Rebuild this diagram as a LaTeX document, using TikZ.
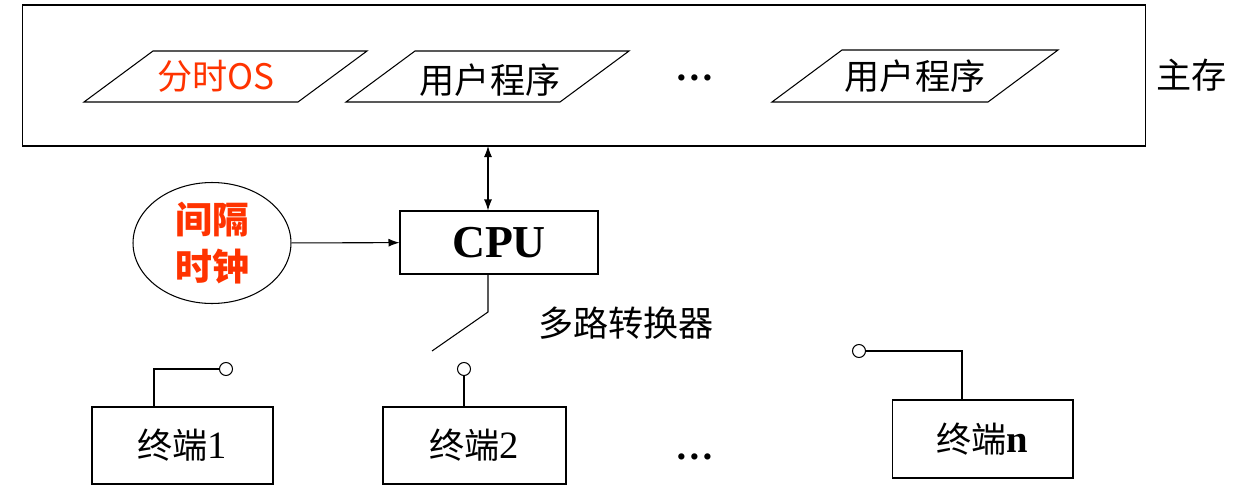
\documentclass[tikz,border=0pt]{standalone}
\usepackage{fontspec}
\setmainfont{Liberation Serif}
\newfontfamily\cjk{Noto Sans CJK SC}
\usetikzlibrary{shapes.geometric, arrows.meta, positioning, calc}
\definecolor{osRed}{RGB}{255,51,0}

\begin{document}
\begin{tikzpicture}[
    x=0.02cm, y=-0.02cm,
    box/.style={rectangle, draw=black, line width=0.6pt, inner sep=0pt},
    cjktext/.style={font=\cjk\fontsize{20}{22}\selectfont, inner sep=0pt},
    port/.style={circle, draw=black, line width=0.6pt, fill=white, minimum size=0.26cm, inner sep=0pt},
    wire/.style={line width=0.6pt},
    arrow/.style={-{Latex[length=2.2mm, width=1.6mm]}, line width=0.6pt}
]
\useasboundingbox (0,0) rectangle (1250,490);

% Main memory
\node[box, minimum width=22.48cm, minimum height=2.82cm] (mem) at (584,75.5) {};
\node[cjktext, right=0.2cm of mem] (memlab) {主存};

% Programs in memory
\node[cjktext, text=osRed] (os) at (216,76) {分时OS};
\node[cjktext] (prog1) at (490,80) {用户程序};
\node[cjktext] (prog2) at (915,76) {用户程序};
\node[font=\fontsize{22}{22}\selectfont\bfseries] (mdots) at (695,78) {\dots};
\draw[wire] (226,77) ++(-142,25) -- ++(214,0) -- ++(69,-51) -- ++(-214,0) -- cycle;
\draw[wire] (488,77) ++(-142,25) -- ++(214,0) -- ++(69,-51) -- ++(-214,0) -- cycle;
\draw[wire] (915,77) ++(-143,25) -- ++(216,0) -- ++(70,-52) -- ++(-216,0) -- cycle;

% CPU and clock
\node[box, minimum width=3.96cm, minimum height=1.26cm, font=\fontsize{26}{28}\selectfont\bfseries] (cpu) at (499,242.5) {CPU};
\node[ellipse, draw=black, line width=0.6pt, minimum width=3.16cm, minimum height=2.42cm, align=center,
      text=osRed, font=\cjk\bfseries\fontsize{21}{27}\selectfont, inner sep=0pt] (clock) at (212,243) {间隔\\时钟};
\draw[arrow] (clock) -- (cpu);
\draw[{Latex[length=2.2mm, width=1.6mm]}-{Latex[length=2.2mm, width=1.6mm]}, line width=0.6pt] (cpu.north -| 488,0) -- (488,146);

% Multiplexer switch
\coordinate (sw) at (488,312);
\coordinate (swend) at (432,351);
\draw[wire] (cpu.south -| sw) -- (sw) -- (swend);
\node[cjktext, anchor=west] (muxlab) at (538,323) {多路转换器};

% Terminals
\node[box, minimum width=3.62cm, minimum height=1.54cm] (t1) at (182.5,445.5) {};
\node[cjktext] at (t1) {终端\fontsize{22}{22}\selectfont\rmfamily 1};
\node[box, minimum width=3.66cm, minimum height=1.54cm] (t2) at (474.5,445.5) {};
\node[cjktext] at (t2) {终端\fontsize{22}{22}\selectfont\rmfamily 2};
\node[box, minimum width=3.62cm, minimum height=1.56cm] (tn) at (982.5,439) {};
\node[cjktext] at (tn) {终端\fontsize{22}{22}\selectfont\rmfamily\bfseries n};
\node[font=\fontsize{22}{22}\selectfont\bfseries] (tdots) at (695,457) {\dots};

\node[port] (p1) at (226,369) {};
\node[port] (p2) at (464,369) {};
\node[port] (pn) at (859,351) {};
\draw[wire] (t1.north -| 154,0) |- (p1);
\draw[wire] (t2.north -| p2) -- (p2);
\draw[wire] (tn.north -| 962,0) |- (pn);
\end{tikzpicture}
\end{document}
